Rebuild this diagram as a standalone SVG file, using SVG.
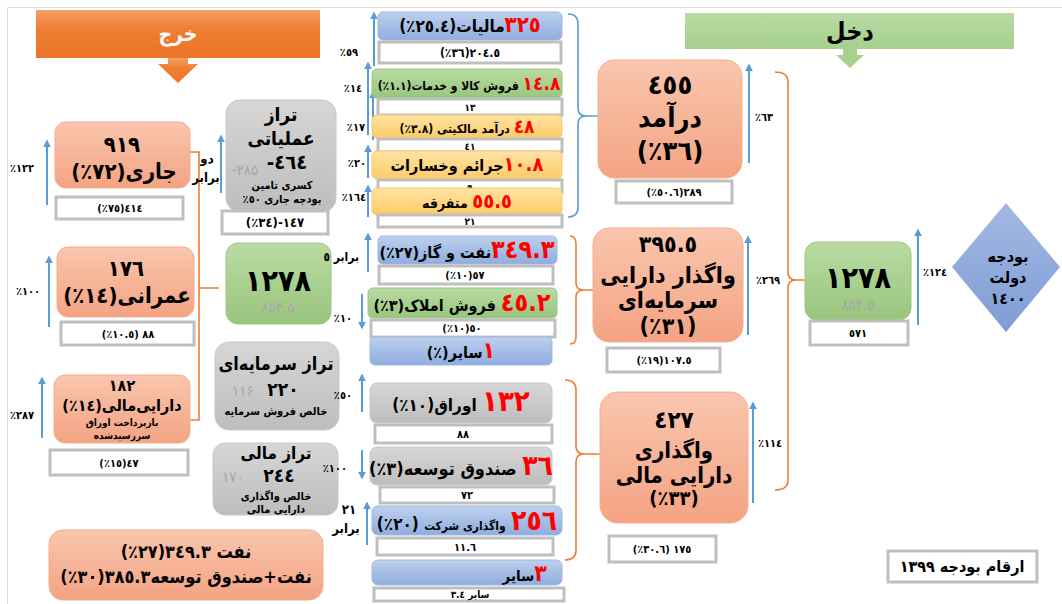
<svg xmlns="http://www.w3.org/2000/svg" width="1062" height="604" viewBox="0 0 1062 604">
<style>
.t{font-family:"DejaVu Sans Condensed","DejaVu Sans","Noto Sans",sans-serif;font-weight:bold;text-anchor:middle;fill:#000}
.e{text-anchor:end}
.r{fill:#ff0000}
.g{fill:#a6a6a6;font-weight:normal}
.w{fill:#fff}
.nb{fill:#fff;stroke:#bfbfbf;stroke-width:3}
.sal{fill:url(#gSal);stroke:#f2ae8e;stroke-width:1}
.gr{fill:url(#gGray);stroke:#c8c8c8;stroke-width:1}
.grn{fill:url(#gGreen);stroke:#9cc583;stroke-width:1}
.blu{fill:url(#gBlue);stroke:#9fb6df;stroke-width:1}
.yel{fill:url(#gYel);stroke:#f5c870;stroke-width:1}
.arr{stroke:#5b9bd5;stroke-width:2;fill:none;marker-end:url(#ah)}
.ob{fill:none;stroke:#ed7d31;stroke-width:1.6}
.bb{fill:none;stroke:#5b9bd5;stroke-width:1.6}
</style>
<defs>
<linearGradient id="gSal" x1="0" y1="0" x2="0" y2="1"><stop offset="0" stop-color="#f9c6ae"/><stop offset="1" stop-color="#f4a383"/></linearGradient>
<linearGradient id="gGray" x1="0" y1="0" x2="0" y2="1"><stop offset="0" stop-color="#d6d6d6"/><stop offset="1" stop-color="#bdbdbd"/></linearGradient>
<linearGradient id="gGreen" x1="0" y1="0" x2="0" y2="1"><stop offset="0" stop-color="#b9dba3"/><stop offset="1" stop-color="#99c57d"/></linearGradient>
<linearGradient id="gBlue" x1="0" y1="0" x2="0" y2="1"><stop offset="0" stop-color="#bdd0ee"/><stop offset="1" stop-color="#8fadde"/></linearGradient>
<linearGradient id="gYel" x1="0" y1="0" x2="0" y2="1"><stop offset="0" stop-color="#ffe3a3"/><stop offset="1" stop-color="#fccb68"/></linearGradient>
<linearGradient id="gOr" x1="0" y1="0" x2="0" y2="1"><stop offset="0" stop-color="#f5a062"/><stop offset="0.4" stop-color="#ef7e33"/><stop offset="1" stop-color="#ec7427"/></linearGradient>
<linearGradient id="gHg" x1="0" y1="0" x2="0" y2="1"><stop offset="0" stop-color="#b9dba5"/><stop offset="1" stop-color="#a6cf8d"/></linearGradient>
<linearGradient id="gDia" x1="0" y1="0" x2="0" y2="1"><stop offset="0" stop-color="#a3b9e3"/><stop offset="1" stop-color="#7d9dd5"/></linearGradient>
<marker id="ah" viewBox="0 0 10 10" refX="8" refY="5" markerWidth="4" markerHeight="4" orient="auto"><path d="M0,0 L10,5 L0,10 z" fill="#5b9bd5"/></marker>
</defs>
<rect width="1062" height="604" fill="#fff"/>
<path d="M1062,7.5 H7.5 V604" fill="none" stroke="#dcdcdc" stroke-width="1"/>

<g id="hdr-kharj">
<rect x="36" y="10" width="284" height="48" fill="url(#gOr)"/>
<path d="M168,58 H188 V64 H198 L178,83 L158,64 H168 Z" fill="url(#gOr)"/>
<text class="t w" x="178" y="41" font-size="21">خرج</text>
</g>
<g id="hdr-dakhl">
<rect x="685" y="13" width="329" height="36" fill="url(#gHg)"/>
<path d="M843,49 H857 V55 H864 L850,68 L836,55 H843 Z" fill="#a9d18e"/>
<text class="t" x="850" y="40" font-size="25">دخل</text>
</g>

<g id="connectors">
<path class="ob" d="M190,152 H199 V420 H190 M199,288 H219"/>
<path class="bb" d="M568,14 Q578,14 578,24 V108 Q578,116 586,116 Q578,116 578,124 V207 Q578,217 568,217 M586,116 H598"/>
<path class="ob" d="M570,236 Q576,236 576,244 V283 Q576,290 584,290 Q576,290 576,297 V337 Q576,344 570,344 M584,290 H593"/>
<path class="ob" d="M565,380 Q576,380 576,390 V446 Q576,454 584,454 Q576,454 576,462 V550 Q576,560 565,560 M584,454 H600"/>
<path class="ob" d="M775,72 Q788,72 788,82 V272 Q788,280 796,280 Q788,280 788,288 V480 Q788,490 775,490 M796,280 H805"/>
<line class="arr" x1="47" y1="205" x2="47" y2="141"/>
<line class="arr" x1="49" y1="327" x2="49" y2="257"/>
<line class="arr" x1="42" y1="438" x2="42" y2="378"/>
<line class="arr" x1="221" y1="193" x2="221" y2="136"/>
<line class="arr" x1="374" y1="66" x2="374" y2="13"/>
<line class="arr" x1="368" y1="135" x2="368" y2="63"/>
<line class="arr" x1="373" y1="140" x2="373" y2="92"/>
<line class="arr" x1="368" y1="178" x2="368" y2="146"/>
<line class="arr" x1="368" y1="217" x2="368" y2="186"/>
<line class="arr" x1="368" y1="272" x2="368" y2="234"/>
<line class="arr" x1="362" y1="294" x2="362" y2="328"/>
<line class="arr" x1="362" y1="412" x2="362" y2="375"/>
<line class="arr" x1="362" y1="450" x2="362" y2="478"/>
<line class="arr" x1="367" y1="545" x2="367" y2="503"/>
<line class="arr" x1="749" y1="163" x2="749" y2="65"/>
<line class="arr" x1="748" y1="335" x2="748" y2="237"/>
<line class="arr" x1="753" y1="503" x2="753" y2="403"/>
<line class="arr" x1="918" y1="325" x2="918" y2="230"/>
</g>

<g id="n-jari">
<rect class="sal" x="55" y="122" width="135" height="66" rx="11"/>
<text class="t" x="122" y="152" font-size="22">&#x202D;٩١٩&#x202C;</text>
<text class="t" x="124" y="179" font-size="22">&#x202D;(٪٧٢)&#x202C;&#x200E;جاری</text>
</g>
<g id="n-jari-val">
<rect class="nb" x="56" y="197" width="127" height="22"/>
<text class="t" x="120" y="212" font-size="11">&#x202D;(٪٧٥)٤١٤&#x202C;</text>
</g>
<g id="n-omrani">
<rect class="sal" x="57" y="247" width="137" height="70" rx="11"/>
<text class="t" x="126" y="276" font-size="22">&#x202D;١٧٦&#x202C;</text>
<text class="t" x="127" y="303" font-size="22">&#x202D;(٪١٤)&#x202C;&#x200E;عمرانی</text>
</g>
<g id="n-omrani-val">
<rect class="nb" x="61" y="322" width="133" height="23"/>
<text class="t" x="128" y="338" font-size="11">&#x202D;(٪١٠.٥) ٨٨&#x202C;</text>
</g>
<g id="n-mali">
<rect class="sal" x="54" y="375" width="136" height="68" rx="11"/>
<text class="t" x="122" y="391" font-size="16">&#x202D;١٨٢&#x202C;</text>
<text class="t" x="122" y="411" font-size="16">&#x202D;(٪١٤)&#x202C;&#x200E;دارایی&#x200C;مالی</text>
<text class="t" x="122" y="426" font-size="10">بازپرداخت اوراق</text>
<text class="t" x="122" y="439" font-size="10">سررسیدشده</text>
</g>
<g id="n-mali-val">
<rect class="nb" x="50" y="450" width="138" height="25"/>
<text class="t" x="119" y="467" font-size="11">&#x202D;(٪١٥)٤٧&#x202C;</text>
</g>
<g id="n-naft">
<rect class="sal" x="49" y="530" width="274" height="70" rx="14"/>
<text class="t" x="186" y="558" font-size="18">&#x202D;(٪٢٧)٣٤٩.٣&#x202C;&#x200E; نفت</text>
<text class="t" x="186" y="583" font-size="18">&#x202D;(٪٣٠)٣٨٥.٣&#x202C;&#x200E;نفت+صندوق توسعه</text>
</g>

<g id="n-taraz-amal">
<rect class="gr" x="226" y="100" width="110" height="112" rx="14"/>
<text class="t" x="281" y="121" font-size="19">تراز</text>
<text class="t" x="281" y="145" font-size="19">عملیاتی</text>
<text class="t g" x="245" y="175" font-size="15">&#x202D;-۲۸۵&#x202C;</text>
<text class="t" x="287" y="169" font-size="20">&#x202D;-٤٦٤&#x202C;</text>
<text class="t" x="282" y="189" font-size="11">کسری تامین</text>
<text class="t" x="282" y="203" font-size="11">&#x202D;٪٥٠&#x202C;&#x200E; بودجه جاری</text>
</g>
<g id="n-taraz-amal-val">
<rect class="nb" x="222" y="211" width="106" height="23"/>
<text class="t" x="275" y="227" font-size="13">&#x202D;(٪٣٤)-١٤٧&#x202C;</text>
</g>
<g id="n-1278-left">
<rect class="grn" x="226" y="243" width="105" height="81" rx="12"/>
<text class="t" x="278" y="291" font-size="30">&#x202D;١٢٧٨&#x202C;</text>
<text class="t g" x="278" y="313" font-size="15">&#x202D;۸۵۴.۵&#x202C;</text>
</g>
<g id="n-taraz-sarmaye">
<rect class="gr" x="215" y="342" width="124" height="88" rx="14"/>
<text class="t" x="276" y="370" font-size="18">تراز سرمایه&#x200C;ای</text>
<text class="t g" x="243" y="396" font-size="15">&#x202D;۱۱۶&#x202C;</text>
<text class="t" x="283" y="396" font-size="19">&#x202D;٢٢٠&#x202C;</text>
<text class="t" x="276" y="415" font-size="11">خالص فروش سرمایه</text>
</g>
<g id="n-taraz-mali">
<rect class="gr" x="213" y="443" width="125" height="72" rx="12"/>
<text class="t" x="276" y="459" font-size="17">تراز مالی</text>
<text class="t g" x="233" y="482" font-size="15">&#x202D;۱۷۰&#x202C;</text>
<text class="t" x="279" y="482" font-size="19">&#x202D;٢٤٤&#x202C;</text>
<text class="t" x="276" y="500" font-size="11">خالص  واگذاری</text>
<text class="t" x="276" y="513" font-size="11">دارایی مالی</text>
</g>

<g id="n-maliat">
<rect class="blu" x="378" y="12" width="184" height="28" rx="5"/>
<text class="t" x="470" y="32" font-size="17">&#x202D;(٪٢٥.٤)&#x202C;&#x200E;مالیات&#x200E;<tspan class="r" font-size="22">&#x202D;٣٢٥&#x202C;</tspan></text>
</g>
<g id="n-maliat-val">
<rect class="nb" x="379" y="42" width="182" height="21"/>
<text class="t" x="470" y="57" font-size="12">&#x202D;(٪٣٦)٢٠٤.٥&#x202C;</text>
</g>
<g id="n-foroosh">
<rect class="grn" x="372" y="69" width="190" height="29" rx="5"/>
<text class="t" x="469" y="90" font-size="12">&#x202D;(٪١.١)&#x202C;&#x200E;فروش کالا و خدمات&#x200E; <tspan class="r" font-size="19">&#x202D;١٤.٨&#x202C;</tspan></text>
</g>
<g id="n-foroosh-val">
<rect class="nb" x="378" y="99" width="184" height="16" stroke-width="2"/>
<text class="t" x="470" y="111" font-size="10">&#x202D;١٣&#x202C;</text>
</g>
<g id="n-malekiati">
<rect class="yel" x="372" y="115" width="190" height="23" rx="5"/>
<text class="t" x="467" y="133" font-size="12">&#x202D;(٪٣.٨)&#x202C;&#x200E; درآمد مالکیتی&#x200E; <tspan class="r" font-size="19">&#x202D;٤٨&#x202C;</tspan></text>
</g>
<g id="n-malekiati-val">
<rect class="nb" x="378" y="139" width="184" height="13" stroke-width="2"/>
<text class="t" x="470" y="150" font-size="10">&#x202D;٤١&#x202C;</text>
</g>
<g id="n-jarayem">
<rect class="yel" x="372" y="151" width="190" height="28" rx="5"/>
<text class="t" x="467" y="171" font-size="16">جرائم وخسارات&#x200E;<tspan class="r" font-size="20">&#x202D;١٠.٨&#x202C;</tspan></text>
</g>
<g id="n-jarayem-val">
<rect class="nb" x="378" y="180" width="184" height="12" stroke-width="2"/>
<text class="t" x="470" y="191" font-size="10">&#x202D;٩&#x202C;</text>
</g>
<g id="n-motefaregheh">
<rect class="yel" x="372" y="188" width="190" height="27" rx="5"/>
<text class="t" x="467" y="208" font-size="14">متفرقه&#x200E;   <tspan class="r" font-size="20">&#x202D;٥٥.٥&#x202C;</tspan></text>
</g>
<g id="n-motefaregheh-val">
<rect class="nb" x="378" y="215" width="184" height="12" stroke-width="2"/>
<text class="t" x="470" y="225" font-size="10">&#x202D;٢١&#x202C;</text>
</g>

<g id="n-naftgaz">
<rect class="blu" x="378" y="236" width="179" height="28" rx="5"/>
<text class="t" x="467" y="258" font-size="16">&#x202D;(٪٢٧)&#x202C;&#x200E;نفت و گاز&#x200E;<tspan class="r" font-size="25">&#x202D;٣٤٩.٣&#x202C;</tspan></text>
</g>
<g id="n-naftgaz-val">
<rect class="nb" x="379" y="266" width="174" height="18"/>
<text class="t" x="465" y="279" font-size="11">&#x202D;(٪١٠)٥٧&#x202C;</text>
</g>
<g id="n-amlak">
<rect class="grn" x="368" y="288" width="189" height="30" rx="5"/>
<text class="t" x="462" y="311" font-size="16">&#x202D;(٪٣)&#x202C;&#x200E;فروش املاک&#x200E;  <tspan class="r" font-size="25">&#x202D;٤٥.٢&#x202C;</tspan></text>
</g>
<g id="n-amlak-val">
<rect class="nb" x="371" y="320" width="184" height="17" stroke-width="2"/>
<text class="t" x="462" y="332" font-size="11">&#x202D;(٪١٠)٥٠&#x202C;</text>
</g>
<g id="n-sayer1">
<rect class="blu" x="370" y="337" width="182" height="28" rx="5"/>
<text class="t" x="461" y="358" font-size="16">&#x202D;(٪)&#x202C;&#x200E;سایر&#x200E;<tspan class="r" font-size="23">&#x202D;١&#x202C;</tspan></text>
</g>

<g id="n-oragh">
<rect class="gr" x="370" y="383" width="182" height="40" rx="7"/>
<text class="t" x="461" y="411" font-size="17">&#x202D;(٪١٠)&#x202C;&#x200E;اوراق&#x200E;   <tspan class="r" font-size="29">&#x202D;١٣٢&#x202C;</tspan></text>
</g>
<g id="n-oragh-val">
<rect class="nb" x="375" y="425" width="177" height="18" stroke-width="2"/>
<text class="t" x="463" y="438" font-size="11">&#x202D;٨٨&#x202C;</text>
</g>
<g id="n-sandogh">
<rect class="gr" x="370" y="447" width="182" height="38" rx="7"/>
<text class="t" x="461" y="475" font-size="18">&#x202D;(٪٣)&#x202C;&#x200E;صندوق توسعه&#x200E; <tspan class="r" font-size="28">&#x202D;٣٦&#x202C;</tspan></text>
</g>
<g id="n-sandogh-val">
<rect class="nb" x="380" y="487" width="174" height="16" stroke-width="2"/>
<text class="t" x="467" y="499" font-size="11">&#x202D;٧٢&#x202C;</text>
</g>
<g id="n-sherkat">
<rect class="blu" x="372" y="506" width="190" height="29" rx="6"/>
<text class="t" x="467" y="530" font-size="17">&#x202D;(٪٢٠)&#x202C;&#x200E; <tspan font-size="12">واگذاری شرکت</tspan>&#x200E; <tspan class="r" font-size="28">&#x202D;٢٥٦&#x202C;</tspan></text>
</g>
<g id="n-sherkat-val">
<rect class="nb" x="377" y="538" width="176" height="17" stroke-width="2"/>
<text class="t" x="465" y="551" font-size="11">&#x202D;١١.٦&#x202C;</text>
</g>
<g id="n-sayer2">
<rect class="blu" x="372" y="560" width="190" height="25" rx="6"/>
<text class="t e" x="547" y="581" font-size="15">سایر&#x200E;<tspan class="r" font-size="23">&#x202D;٣&#x202C;</tspan></text>
</g>
<g id="n-sayer2-val">
<rect class="nb" x="374" y="588" width="190" height="13" stroke-width="2"/>
<text class="t" x="470" y="598" font-size="10">&#x202D;٣.٤&#x202C;&#x200E; سایر</text>
</g>

<g id="n-daramad">
<rect class="sal" x="598" y="60" width="144" height="118" rx="16"/>
<text class="t" x="670" y="94" font-size="27">&#x202D;٤٥٥&#x202C;</text>
<text class="t" x="670" y="127" font-size="27">درآمد</text>
<text class="t" x="670" y="160" font-size="27">&#x202D;(٪٣٦)&#x202C;</text>
</g>
<g id="n-daramad-val">
<rect class="nb" x="616" y="181" width="116" height="22"/>
<text class="t" x="674" y="196" font-size="11">&#x202D;(٪٥٠.٦)٢٨٩&#x202C;</text>
</g>
<g id="n-vagozar-sarmaye">
<rect class="sal" x="593" y="228" width="150" height="114" rx="16"/>
<text class="t" x="668" y="252" font-size="23">&#x202D;٣٩٥.٥&#x202C;</text>
<text class="t" x="668" y="283" font-size="23">واگذار دارایی</text>
<text class="t" x="668" y="308" font-size="23">سرمایه&#x200C;ای</text>
<text class="t" x="668" y="334" font-size="23">&#x202D;(٪٣١)&#x202C;</text>
</g>
<g id="n-vagozar-sarmaye-val">
<rect class="nb" x="607" y="348" width="113" height="24"/>
<text class="t" x="664" y="364" font-size="11">&#x202D;(٪١٩)١٠٧.٥&#x202C;</text>
</g>
<g id="n-vagozari-mali">
<rect class="sal" x="600" y="392" width="148" height="131" rx="18"/>
<text class="t" x="674" y="428" font-size="24">&#x202D;٤٢٧&#x202C;</text>
<text class="t" x="674" y="458" font-size="22">واگذاری</text>
<text class="t" x="674" y="483" font-size="22">دارایی مالی</text>
<text class="t" x="674" y="505" font-size="20">&#x202D;(٪٣٣)&#x202C;</text>
</g>
<g id="n-vagozari-mali-val">
<rect class="nb" x="609" y="536" width="107" height="26"/>
<text class="t" x="662" y="553" font-size="11">&#x202D;(٪٣٠.٦) ١٧٥&#x202C;</text>
</g>
<g id="n-1278-right">
<rect class="grn" x="805" y="242" width="106" height="78" rx="12"/>
<text class="t" x="858" y="288" font-size="30">&#x202D;١٢٧٨&#x202C;</text>
<text class="t g" x="858" y="310" font-size="15">&#x202D;۸۵۴.۵&#x202C;</text>
</g>
<g id="n-1278-right-val">
<rect class="nb" x="810" y="321" width="98" height="24"/>
<text class="t" x="858" y="337" font-size="11">&#x202D;٥٧١&#x202C;</text>
</g>
<g id="n-budget">
<polygon points="1006,203 1060,267 1006,332 952,267" fill="url(#gDia)"/>
<text class="t" x="1008" y="262" font-size="16">بودجه</text>
<text class="t" x="1008" y="283" font-size="16">دولت</text>
<text class="t" x="1008" y="304" font-size="16">&#x202D;١٤٠٠&#x202C;</text>
</g>
<g id="n-1399">
<rect class="nb" x="888" y="551" width="149" height="31"/>
<text class="t" x="962" y="572" font-size="16">&#x202D;١٣٩٩&#x202C;&#x200E; ارقام بودجه</text>
</g>

<g id="labels">
<text class="t" x="22" y="172" font-size="11">&#x202D;٪١٢٢&#x202C;</text>
<text class="t" x="28" y="295" font-size="11">&#x202D;٪١٠٠&#x202C;</text>
<text class="t" x="22" y="419" font-size="11">&#x202D;٪٢٨٧&#x202C;</text>
<text class="t" x="207" y="163" font-size="13">دو</text>
<text class="t" x="206" y="182" font-size="13">برابر</text>
<text class="t e" x="358" y="56" font-size="11">&#x202D;٪٥٩&#x202C;</text>
<text class="t e" x="362" y="92" font-size="11">&#x202D;٪١٤&#x202C;</text>
<text class="t e" x="365" y="131" font-size="11">&#x202D;٪١٧&#x202C;</text>
<text class="t e" x="366" y="167" font-size="11">&#x202D;٪٢٠&#x202C;</text>
<text class="t e" x="366" y="201" font-size="11">&#x202D;٪١٦٤&#x202C;</text>
<text class="t e" x="359" y="261" font-size="12">&#x202D;٥&#x202C;&#x200E; برابر</text>
<text class="t e" x="352" y="322" font-size="11">&#x202D;٪١٠&#x202C;</text>
<text class="t e" x="352" y="399" font-size="11">&#x202D;٪٥٠&#x202C;</text>
<text class="t e" x="347" y="472" font-size="11">&#x202D;٪١٠٠&#x202C;</text>
<text class="t" x="349" y="514" font-size="13">&#x202D;٢١&#x202C;</text>
<text class="t" x="346" y="533" font-size="13">برابر</text>
<text class="t" x="764" y="121" font-size="11">&#x202D;٪٦٣&#x202C;</text>
<text class="t" x="768" y="284" font-size="11">&#x202D;٪٢٦٩&#x202C;</text>
<text class="t" x="770" y="447" font-size="11">&#x202D;٪١١٤&#x202C;</text>
<text class="t" x="935" y="276" font-size="11">&#x202D;٪١٢٤&#x202C;</text>
</g>
</svg>
